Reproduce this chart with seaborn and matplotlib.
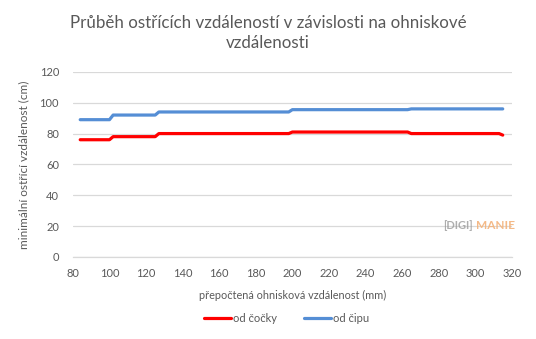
import matplotlib
matplotlib.use("Agg")
import matplotlib.pyplot as plt
import seaborn as sns
import pandas as pd

# Equivalent focal length (mm) and minimum focus distance (cm)
focal_mm = [84, 100, 102, 125, 127, 198, 200, 263, 265, 313, 315]
from_lens_cm = [76, 76, 78, 78, 80, 80, 81, 81, 80, 80, 79]
from_sensor_cm = [89, 89, 92, 92, 94, 94, 95.5, 95.5, 96, 96, 96]
series_names = ["od čočky", "od čipu"]
x_ticks = list(range(80, 321, 20))
y_ticks = list(range(0, 121, 20))

df = pd.concat([
    pd.DataFrame({"f": focal_mm, "d": from_lens_cm, "serie": series_names[0]}),
    pd.DataFrame({"f": focal_mm, "d": from_sensor_cm, "serie": series_names[1]}),
])

sns.set_theme(style="white")
plt.rcParams["font.family"] = ["Lato", "DejaVu Sans"]

grey = "#595959"
fig = plt.figure(figsize=(5.36, 3.39), dpi=100)
ax = fig.add_axes([0.136, 0.242, 0.819, 0.546])

sns.lineplot(data=df, x="f", y="d", hue="serie", hue_order=series_names,
             palette=["#ff0000", "#558ed5"], linewidth=2.3, ax=ax,
             estimator=None, sort=False)

ax.set_xlim(80, 320)
ax.set_ylim(0, 120)
ax.set_xticks(x_ticks)
ax.set_yticks(y_ticks)
ax.yaxis.grid(True, color="#d9d9d9", linewidth=0.9)
ax.xaxis.grid(False)
for side in ["left", "right", "top"]:
    ax.spines[side].set_visible(False)
ax.spines["bottom"].set_color("#d9d9d9")
ax.spines["bottom"].set_linewidth(0.9)
ax.tick_params(axis="x", direction="out", length=4, width=0.9, color="#d9d9d9",
               labelsize=8, labelcolor=grey, pad=4)
ax.tick_params(axis="y", length=0, labelsize=8, labelcolor=grey, pad=10)

ax.set_xlabel("přepočtená ohnisková vzdálenost (mm)", fontsize=7.8, color=grey, labelpad=8)
ax.set_ylabel("minimální ostřící vzdálenost (cm)", fontsize=8.5, color=grey, labelpad=7)

fig.text(0.5, 0.955, "Průběh ostřících vzdáleností v závislosti na ohniskové\nvzdálenosti",
         ha="center", va="top", fontsize=12.2, color=grey, linespacing=1.3)

leg = ax.legend(loc="center", bbox_to_anchor=(0.535, 0.06), bbox_transform=fig.transFigure,
                ncol=2, frameon=False, fontsize=8, handlelength=2.4, handletextpad=0.25,
                columnspacing=2.4)
for t in leg.get_texts():
    t.set_color(grey)

# site logo
fig.text(0.826, 0.334, "[DIGI]", fontsize=8, color="#9a9a9a", fontweight="bold",
         ha="left", va="center", alpha=0.8)
fig.text(0.888, 0.334, "MANIE", fontsize=8.5, color="#f3b27a", fontweight="bold",
         ha="left", va="center", alpha=0.9)

fig.savefig("out.png", dpi=100)
